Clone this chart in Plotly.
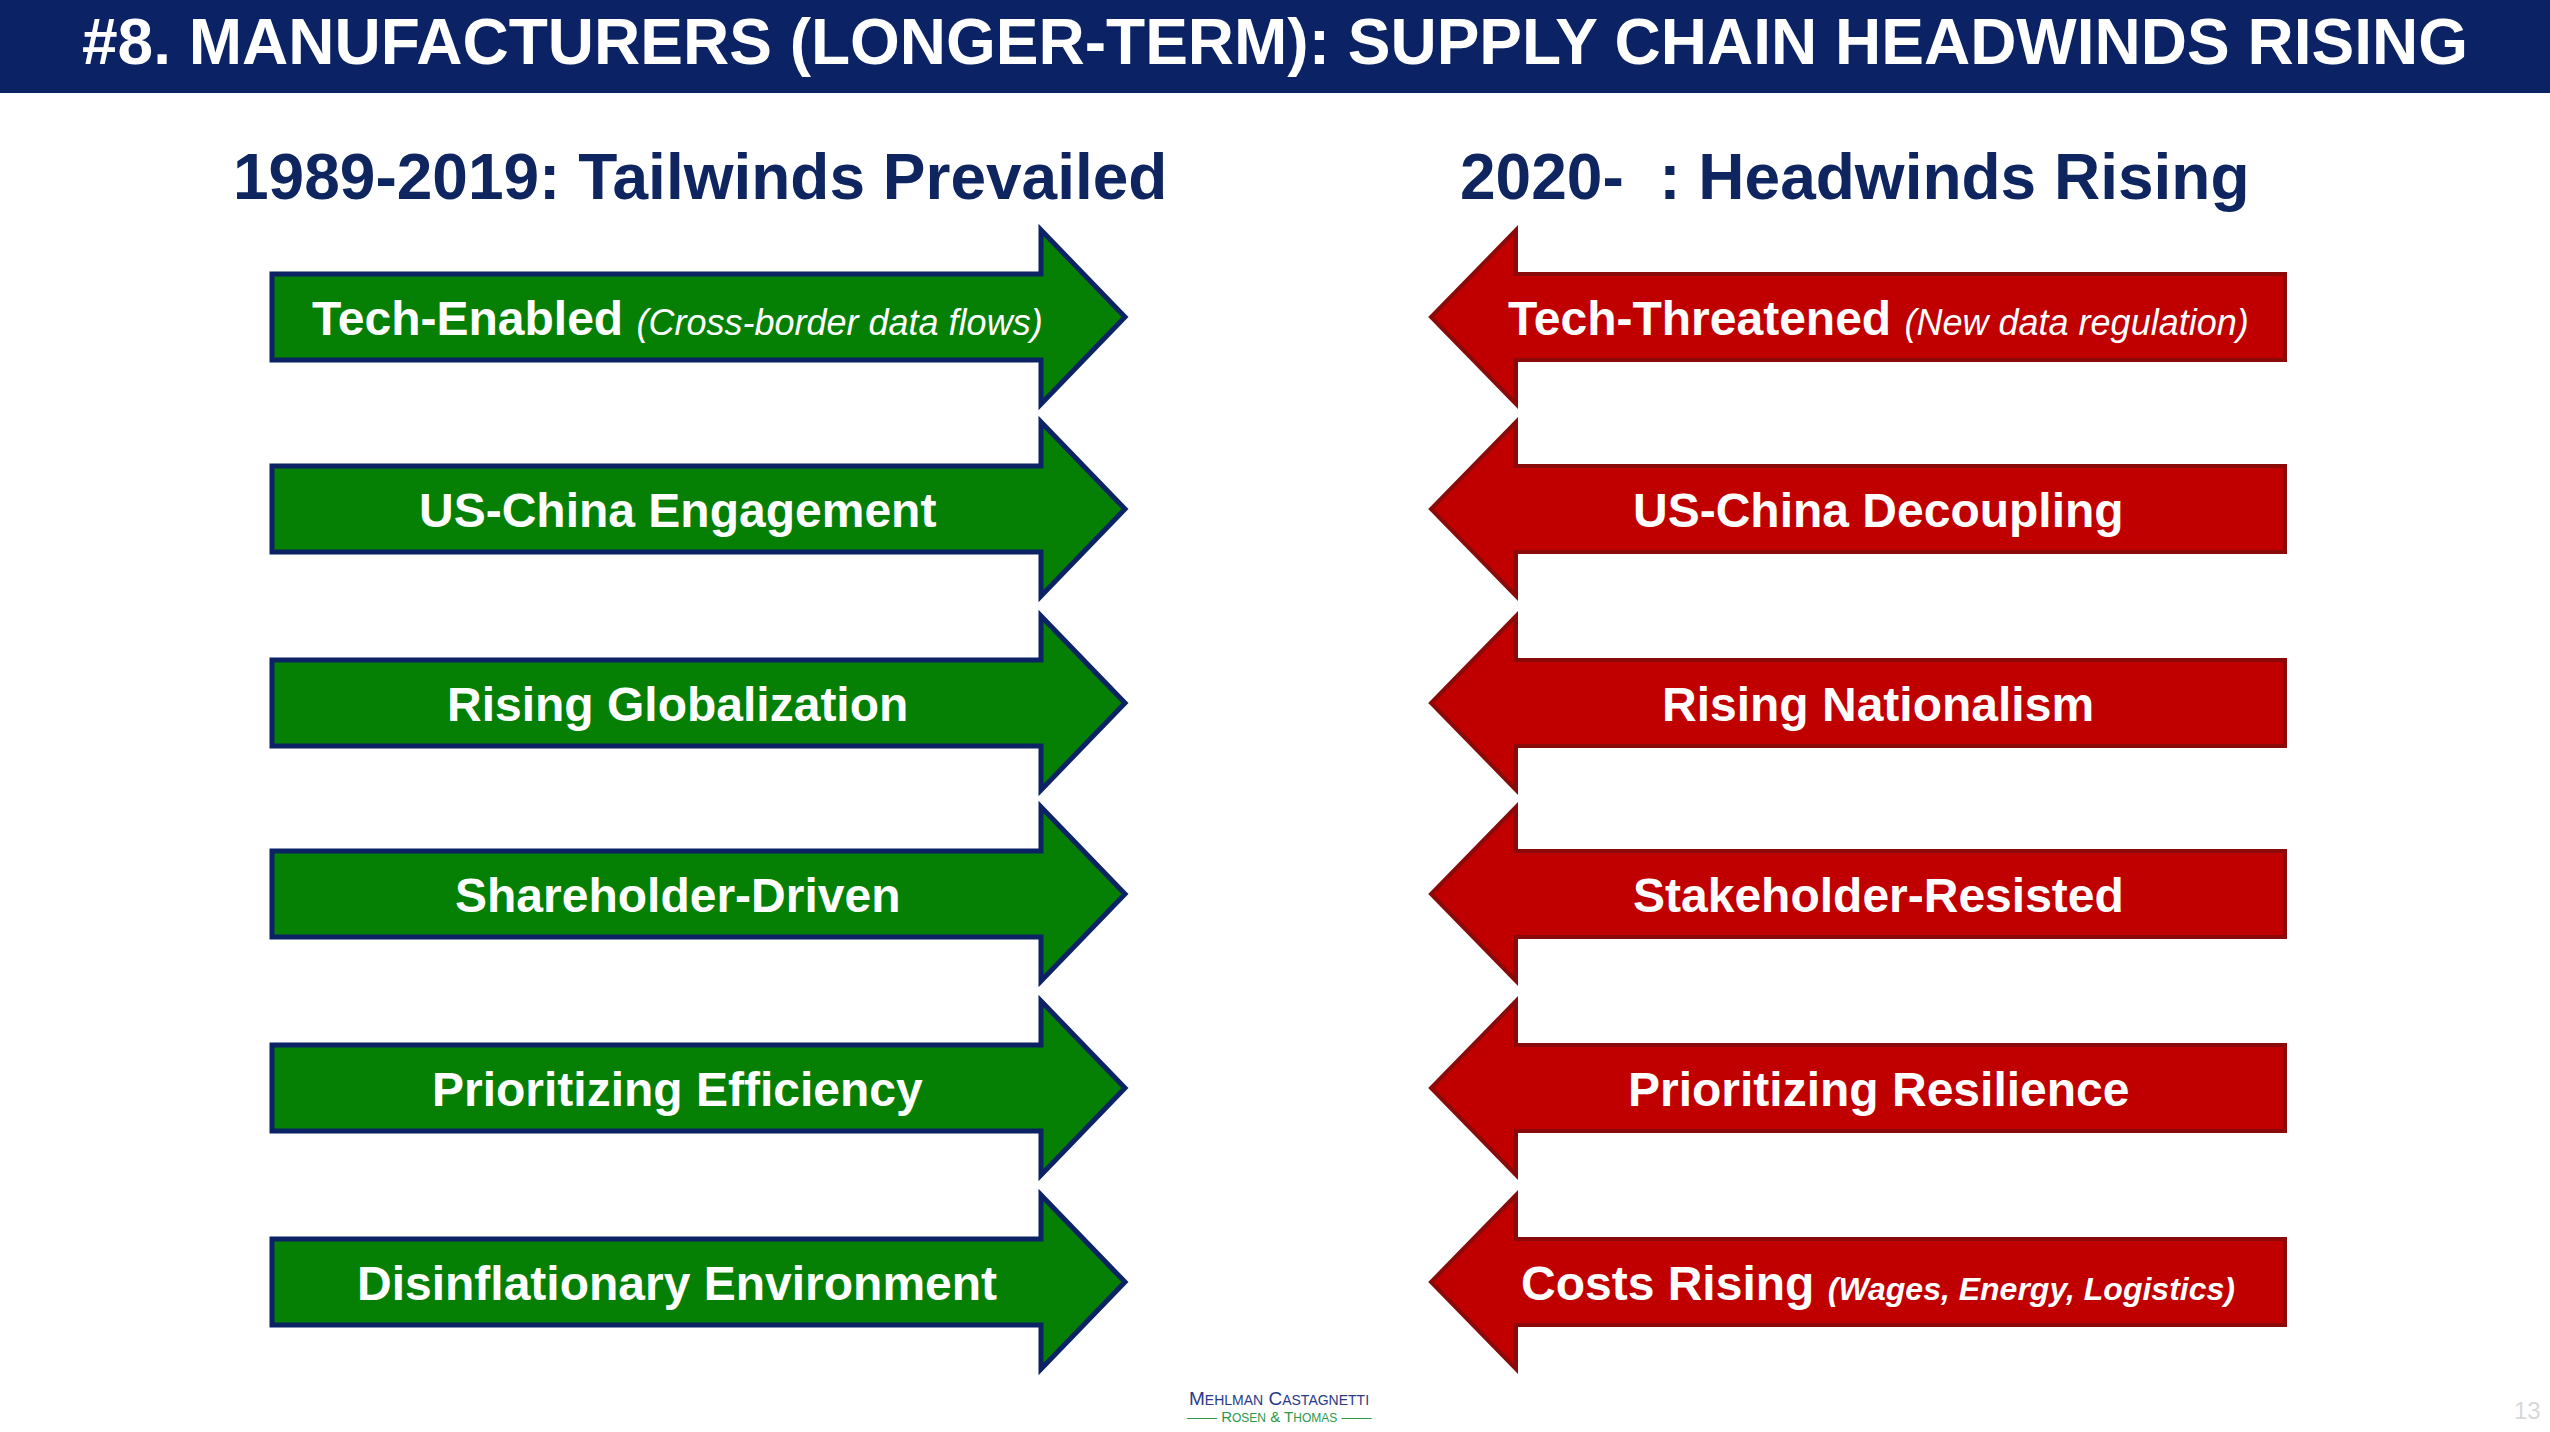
import plotly.graph_objects as go

title = "#8. MANUFACTURERS (LONGER-TERM): SUPPLY CHAIN HEADWINDS RISING"
left_head = "1989-2019: Tailwinds Prevailed"
right_head = "2020-  : Headwinds Rising"
left_main = ["Tech-Enabled", "US-China Engagement", "Rising Globalization",
             "Shareholder-Driven", "Prioritizing Efficiency", "Disinflationary Environment"]
left_sub = ["(Cross-border data flows)", "", "", "", "", ""]
right_main = ["Tech-Threatened", "US-China Decoupling", "Rising Nationalism",
              "Stakeholder-Resisted", "Prioritizing Resilience", "Costs Rising"]
right_sub = ["(New data regulation)", "", "", "", "", "(Wages, Energy, Logistics)"]
rows = [317, 509, 703, 894, 1088, 1282]

W, H = 2550, 1432
F = "Liberation Sans"
fig = go.Figure()
fig.add_trace(go.Scatter(x=[0, W], y=[0, H], mode="markers", marker=dict(opacity=0), hoverinfo="skip"))
shapes = []
ann = []
shapes.append(dict(type="rect", x0=0, x1=W, y0=0, y1=93, fillcolor="#0b2265", line_width=0, layer="below"))
ann.append(dict(x=W/2, y=42, text="<b>"+title+"</b>", showarrow=False,
                font=dict(family=F, size=64, color="white")))
ann.append(dict(x=700, y=177, text="<b>"+left_head+"</b>", showarrow=False,
                font=dict(family=F, size=64, color="#0f2560")))
ann.append(dict(x=1855, y=177, text="<b>"+right_head+"</b>", showarrow=False,
                font=dict(family=F, size=64, color="#0f2560")))
bh, hh = 43, 87
for i, c in enumerate(rows):
    p = (f"M 272 {c-bh} L 1041 {c-bh} L 1041 {c-hh} L 1125 {c} L 1041 {c+hh} "
         f"L 1041 {c+bh} L 272 {c+bh} Z")
    shapes.append(dict(type="path", path=p, fillcolor="#058005", line=dict(color="#0b2265", width=5)))
    p = (f"M 2285 {c-bh} L 1516 {c-bh} L 1516 {c-hh} L 1431 {c} L 1516 {c+hh} "
         f"L 1516 {c+bh} L 2285 {c+bh} Z")
    shapes.append(dict(type="path", path=p, fillcolor="#c00000", line=dict(color="#8a0a0a", width=4)))
    t = "<b>"+left_main[i]+"</b>"
    if left_sub[i]:
        t += " <i><span style='font-size:36px'>"+left_sub[i]+"</span></i>"
    ann.append(dict(x=677, y=c+1, text=t, showarrow=False,
                    font=dict(family=F, size=48, color="white")))
    t = "<b>"+right_main[i]+"</b>"
    if right_sub[i]:
        if i == 5:
            t += " <i><b><span style='font-size:32px'>%s</span></b></i>" % right_sub[i]
        else:
            t += " <i><span style='font-size:36px'>%s</span></i>" % right_sub[i]
    ann.append(dict(x=1878, y=c+1, text=t, showarrow=False,
                    font=dict(family=F, size=48, color="white")))
ann.append(dict(x=1279, y=1398, text="M<span style='font-size:14px'>EHLMAN</span> C<span style='font-size:14px'>ASTAGNETTI</span>",
                showarrow=False, font=dict(family=F, size=19, color="#2a3a8a")))
ann.append(dict(x=1279, y=1416, text="—— R<span style='font-size:12px'>OSEN</span> &amp; T<span style='font-size:12px'>HOMAS</span> ——",
                showarrow=False, font=dict(family=F, size=15, color="#2a9a4a")))
ann.append(dict(x=2527, y=1410, text="13", showarrow=False,
                font=dict(family=F, size=24, color="#d8d8d8")))
fig.update_layout(width=W, height=H, margin=dict(l=0, r=0, t=0, b=0),
                  plot_bgcolor="white", paper_bgcolor="white", showlegend=False,
                  shapes=shapes, annotations=ann,
                  xaxis=dict(range=[0, W], visible=False, fixedrange=True),
                  yaxis=dict(range=[H, 0], visible=False, fixedrange=True))
fig.write_html("out.html", config={"displayModeBar": False},
               post_script="document.body.style.margin='0';document.body.style.overflow='hidden';")
